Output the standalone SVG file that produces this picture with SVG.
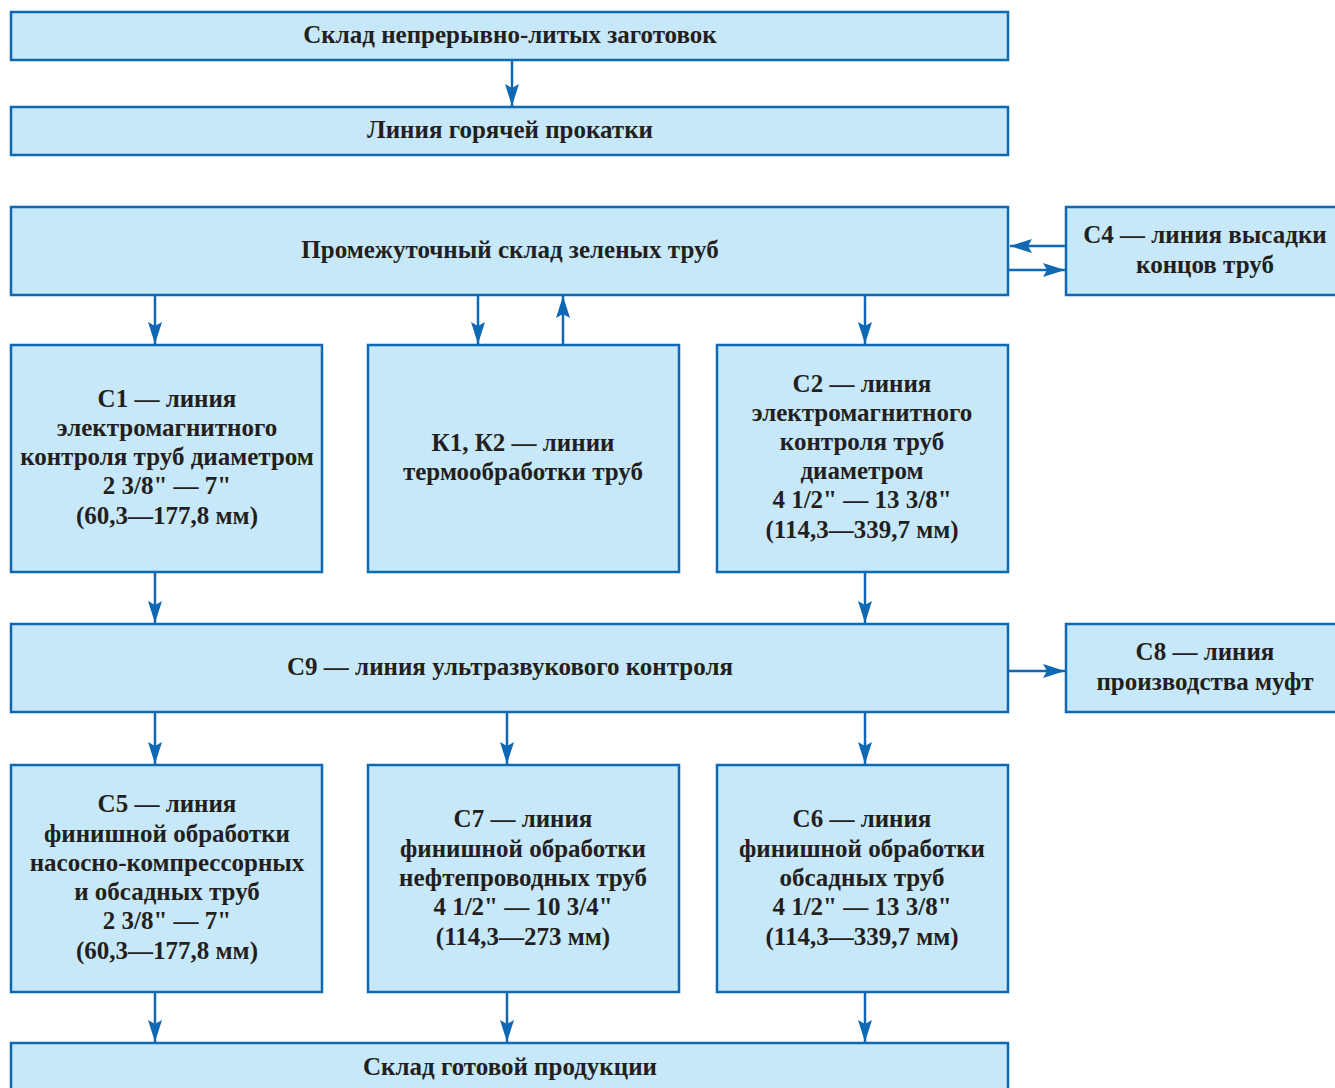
<svg xmlns="http://www.w3.org/2000/svg" width="1335" height="1088" viewBox="0 0 1335 1088">
<style>
.b{fill:#c7e8f8;stroke:#0f68b3;stroke-width:2.5}
.t{font-family:"Liberation Serif",serif;font-weight:bold;font-size:25px;fill:#231f20;text-anchor:middle}
.c{stroke:#0f68b3;stroke-width:2.5;fill:none}
</style>
<defs>
<marker id="a" viewBox="0 0 22 14" refX="22" refY="7" markerWidth="22" markerHeight="14" markerUnits="userSpaceOnUse" orient="auto">
<path d="M0,0 L22,7 L0,14 L4,7 Z" fill="#0f68b3"/>
</marker>
</defs>
<rect width="1335" height="1088" fill="#fff"/>
<g id="n1"><rect class="b" x="11" y="12" width="997" height="48"/><text class="t" x="510" y="43">Склад непрерывно-литых заготовок</text></g>
<g id="n2"><rect class="b" x="11" y="107" width="997" height="48"/><text class="t" x="510" y="138">Линия горячей прокатки</text></g>
<g id="n3"><rect class="b" x="11" y="207" width="997" height="88"/><text class="t" x="510" y="258">Промежуточный склад зеленых труб</text></g>
<g id="n4"><rect class="b" x="1066" y="207" width="272" height="88"/><text class="t" x="1205" y="243">С4 — линия высадки</text><text class="t" x="1205" y="273">концов труб</text></g>
<g id="n5"><rect class="b" x="11" y="345" width="311" height="227"/>
<text class="t" x="167" y="407">С1 — линия</text>
<text class="t" x="167" y="436">электромагнитного</text>
<text class="t" x="167" y="465">контроля труб диаметром</text>
<text class="t" x="167" y="494">2 3/8" — 7"</text>
<text class="t" x="167" y="524">(60,3—177,8 мм)</text></g>
<g id="n6"><rect class="b" x="368" y="345" width="311" height="227"/>
<text class="t" x="523" y="451">К1, К2 — линии</text>
<text class="t" x="523" y="480">термообработки труб</text></g>
<g id="n7"><rect class="b" x="717" y="345" width="291" height="227"/>
<text class="t" x="862" y="392">С2 — линия</text>
<text class="t" x="862" y="421">электромагнитного</text>
<text class="t" x="862" y="450">контроля труб</text>
<text class="t" x="862" y="479">диаметром</text>
<text class="t" x="862" y="508">4 1/2" — 13 3/8"</text>
<text class="t" x="862" y="538">(114,3—339,7 мм)</text></g>
<g id="n8"><rect class="b" x="11" y="624" width="997" height="88"/><text class="t" x="510" y="675">С9 — линия ультразвукового контроля</text></g>
<g id="n9"><rect class="b" x="1066" y="624" width="272" height="88"/><text class="t" x="1205" y="660">С8 — линия</text><text class="t" x="1205" y="690">производства муфт</text></g>
<g id="n10"><rect class="b" x="11" y="765" width="311" height="227"/>
<text class="t" x="167" y="812">С5 — линия</text>
<text class="t" x="167" y="842">финишной обработки</text>
<text class="t" x="167" y="871">насосно-компрессорных</text>
<text class="t" x="167" y="900">и обсадных труб</text>
<text class="t" x="167" y="929">2 3/8" — 7"</text>
<text class="t" x="167" y="959">(60,3—177,8 мм)</text></g>
<g id="n11"><rect class="b" x="368" y="765" width="311" height="227"/>
<text class="t" x="523" y="827">С7 — линия</text>
<text class="t" x="523" y="857">финишной обработки</text>
<text class="t" x="523" y="886">нефтепроводных труб</text>
<text class="t" x="523" y="915">4 1/2" — 10 3/4"</text>
<text class="t" x="523" y="945">(114,3—273 мм)</text></g>
<g id="n12"><rect class="b" x="717" y="765" width="291" height="227"/>
<text class="t" x="862" y="827">С6 — линия</text>
<text class="t" x="862" y="857">финишной обработки</text>
<text class="t" x="862" y="886">обсадных труб</text>
<text class="t" x="862" y="915">4 1/2" — 13 3/8"</text>
<text class="t" x="862" y="945">(114,3—339,7 мм)</text></g>
<g id="n13"><rect class="b" x="11" y="1043" width="997" height="60"/><text class="t" x="510" y="1075">Склад готовой продукции</text></g>
<g id="connectors">
<path class="c" marker-end="url(#a)" d="M512,60 V106"/>
<path class="c" marker-end="url(#a)" d="M1066,246 H1010"/>
<path class="c" marker-end="url(#a)" d="M1008,270 H1065"/>
<path class="c" marker-end="url(#a)" d="M155,296 V344"/>
<path class="c" marker-end="url(#a)" d="M478,296 V344"/>
<path class="c" marker-end="url(#a)" d="M563,344 V296"/>
<path class="c" marker-end="url(#a)" d="M865,296 V344"/>
<path class="c" marker-end="url(#a)" d="M155,572 V623"/>
<path class="c" marker-end="url(#a)" d="M865,572 V623"/>
<path class="c" marker-end="url(#a)" d="M1008,671 H1065"/>
<path class="c" marker-end="url(#a)" d="M155,713 V764"/>
<path class="c" marker-end="url(#a)" d="M507,713 V764"/>
<path class="c" marker-end="url(#a)" d="M865,713 V764"/>
<path class="c" marker-end="url(#a)" d="M155,992 V1042"/>
<path class="c" marker-end="url(#a)" d="M507,992 V1042"/>
<path class="c" marker-end="url(#a)" d="M865,992 V1042"/>
</g>
</svg>
